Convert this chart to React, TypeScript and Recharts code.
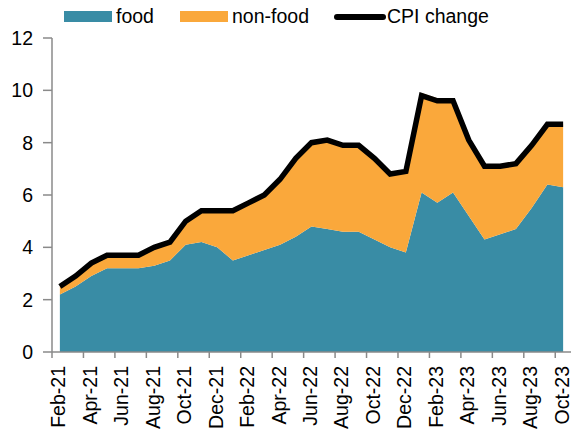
import React from "react";
import { ComposedChart, Area, Line, XAxis, YAxis } from "recharts";

const months = [
  "Feb-21", "Mar-21", "Apr-21", "May-21", "Jun-21", "Jul-21", "Aug-21", "Sep-21", "Oct-21", "Nov-21", "Dec-21",
  "Jan-22", "Feb-22", "Mar-22", "Apr-22", "May-22", "Jun-22", "Jul-22", "Aug-22", "Sep-22", "Oct-22", "Nov-22", "Dec-22",
  "Jan-23", "Feb-23", "Mar-23", "Apr-23", "May-23", "Jun-23", "Jul-23", "Aug-23", "Sep-23", "Oct-23",
];
const food = [2.2, 2.5, 2.9, 3.2, 3.2, 3.2, 3.3, 3.5, 4.1, 4.2, 4.0, 3.5, 3.7, 3.9, 4.1, 4.4, 4.8, 4.7, 4.6, 4.6, 4.3, 4.0, 3.8, 6.1, 5.7, 6.1, 5.2, 4.3, 4.5, 4.7, 5.5, 6.4, 6.3];
const nonFood = [0.3, 0.4, 0.5, 0.5, 0.5, 0.5, 0.7, 0.7, 0.9, 1.2, 1.4, 1.9, 2.0, 2.1, 2.5, 3.0, 3.2, 3.4, 3.3, 3.3, 3.1, 2.8, 3.1, 3.8, 4.0, 3.6, 2.9, 2.8, 2.6, 2.5, 2.4, 2.3, 2.4];
const cpi = [2.5, 2.9, 3.4, 3.7, 3.7, 3.7, 4.0, 4.2, 5.0, 5.4, 5.4, 5.4, 5.7, 6.0, 6.6, 7.4, 8.0, 8.1, 7.9, 7.9, 7.4, 6.8, 6.9, 9.8, 9.6, 9.6, 8.1, 7.1, 7.1, 7.2, 7.9, 8.7, 8.7];
const yTicks = [0, 2, 4, 6, 8, 10, 12];

const TEAL = "#398ca5";
const ORANGE = "#faa83b";
const AXIS = "#8a8a8a";
const FONT = "'Liberation Sans', Arial, sans-serif";
const HALF_STEP = 7.875;

const data = months.map((m, i) => ({ month: m, food: food[i], nonFood: nonFood[i], cpi: cpi[i] }));

// tick mark sits on the category boundary, label on the category centre
function MonthTick(props: any) {
  const { x, y, payload } = props;
  return (
    <g>
      <line x1={x - HALF_STEP} x2={x - HALF_STEP} y1={y} y2={y + 6} stroke={AXIS} strokeWidth={1.5} />
      <text
        transform={`translate(${x},${y + 14}) rotate(-90)`}
        textAnchor="end"
        dy="0.28em"
        fontSize={19.5}
        fontFamily={FONT}
        fill="#000"
      >
        {payload.value}
      </text>
    </g>
  );
}

function LegendRow() {
  const item = { position: "absolute" as const, top: 4, fontSize: 19.5, fontFamily: FONT, lineHeight: "24px" };
  return (
    <>
      <div style={{ position: "absolute", left: 64, top: 11, width: 48, height: 11, background: TEAL }} />
      <div style={{ ...item, left: 116 }}>food</div>
      <div style={{ position: "absolute", left: 180, top: 11, width: 48, height: 11, background: ORANGE }} />
      <div style={{ ...item, left: 232 }}>non-food</div>
      <div style={{ position: "absolute", left: 334, top: 14, width: 52, height: 5.5, background: "#000", borderRadius: 3 }} />
      <div style={{ ...item, left: 387 }}>CPI change</div>
    </>
  );
}

export default function App() {
  return (
    <div style={{ position: "relative", width: 571, height: 435, background: "#fff", overflow: "hidden" }}>
      <style>{"body{margin:0}"}</style>
      <LegendRow />
      <ComposedChart width={571} height={435} data={data} margin={{ top: 38, right: 0, left: 0, bottom: 0 }}>
        <XAxis
          dataKey="month"
          height={83}
          interval={1}
          padding={{ left: HALF_STEP, right: HALF_STEP }}
          stroke={AXIS}
          strokeWidth={1.5}
          tickLine={false}
          tickSize={0}
          tickMargin={0}
          tick={<MonthTick />}
        />
        <YAxis
          domain={[0, 12]}
          ticks={yTicks}
          interval={0}
          width={52}
          stroke={AXIS}
          strokeWidth={1.5}
          tickSize={9}
          tickMargin={10}
          tick={{ fill: "#000", fontSize: 19.5, fontFamily: FONT }}
        />
        <Area type="linear" dataKey="food" stackId="a" stroke="none" fill={TEAL} fillOpacity={1} isAnimationActive={false} />
        <Area type="linear" dataKey="nonFood" stackId="a" stroke="none" fill={ORANGE} fillOpacity={1} isAnimationActive={false} />
        <Line type="linear" dataKey="cpi" stroke="#000" strokeWidth={5.5} dot={false} activeDot={false} isAnimationActive={false} />
      </ComposedChart>
    </div>
  );
}
